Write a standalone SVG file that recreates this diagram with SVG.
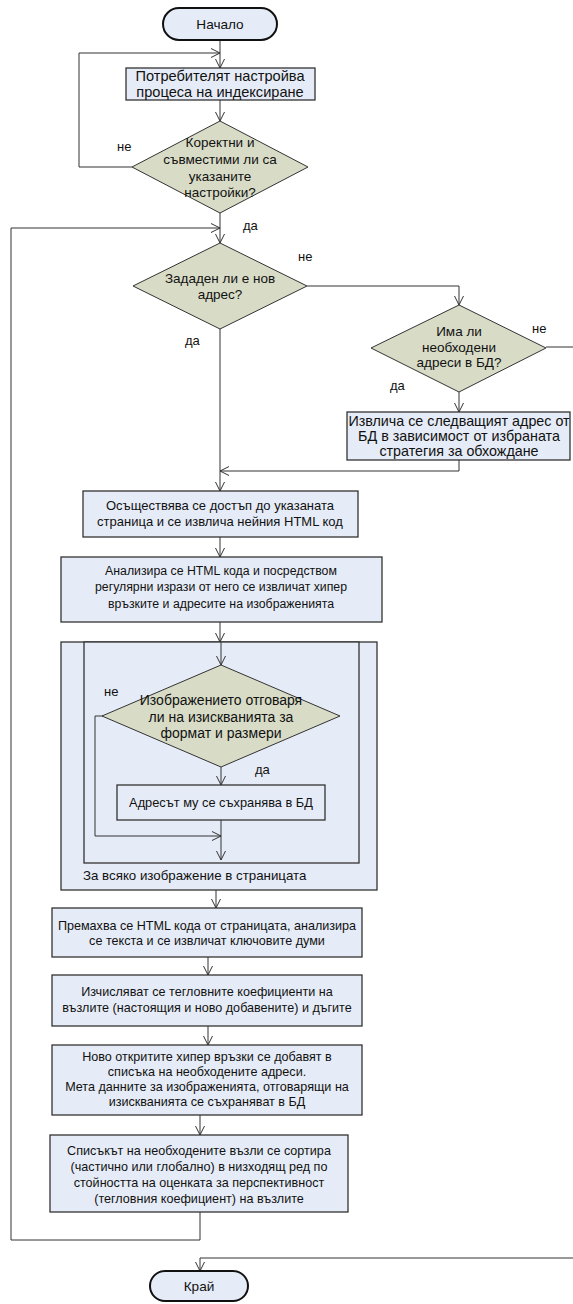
<svg xmlns="http://www.w3.org/2000/svg" width="573" height="1304" viewBox="0 0 573 1304">
<style>
.box{fill:#E6ECF7;stroke:#333;stroke-width:1.3}
.dia{fill:#D8DCC7;stroke:#333;stroke-width:1}
.term{fill:#E6ECF7;stroke:#111;stroke-width:2}
.frame{fill:#E6ECF7;stroke:#333;stroke-width:1.3}
.edge{fill:none;stroke:#333;stroke-width:1}
.arr{marker-end:url(#arr)}
text{font-family:"Liberation Sans",Arial,sans-serif;font-size:13px;fill:#111;text-anchor:middle}
.lbl{text-anchor:start}
.big{font-size:14.3px}
.dt{font-size:13.5px}
.sm{font-size:12.3px}
.lw{font-size:12.6px}
</style>
<defs>
<marker id="arr" markerUnits="userSpaceOnUse" markerWidth="12" markerHeight="12" refX="9" refY="5" orient="auto">
<path d="M0,0.5 L9,5 L0,9.5" fill="none" stroke="#333" stroke-width="1"/>
</marker>
</defs>
<rect width="573" height="1304" fill="#fff"/>

<g id="connectors">
<path class="edge arr" d="M220,40 V68"/>
<path class="edge arr" d="M220,100 V121"/>
<path class="edge arr" d="M132,167 H79 V53 H220"/>
<path class="edge arr" d="M220,213 V243"/>
<path class="edge arr" d="M307,286 H459 V305"/>
<path class="edge arr" d="M220,329 V491"/>
<path class="edge arr" d="M459,392 V412"/>
<path class="edge arr" d="M546,347 H580 V1258 H200 V1271"/>
<path class="edge arr" d="M459,460 V471 H220"/>
<path class="edge arr" d="M220,537 V557"/>
<path class="edge arr" d="M220,622 V642"/>
<path class="edge arr" d="M216,890 V908"/>
<path class="edge arr" d="M208,957 V975"/>
<path class="edge arr" d="M208,1026 V1045"/>
<path class="edge arr" d="M200,1115 V1135"/>
<path class="edge arr" d="M200,1212 V1240 H11 V228 H220"/>
</g>

<g id="loop">
<rect class="frame" x="61" y="642" width="316" height="248"/>
<rect class="frame" x="84" y="642" width="275" height="221"/>
<text class="lbl" x="83" y="880" style="font-size:13.3px">За всяко изображение в страницата</text>
<g id="loop-connectors">
<path class="edge arr" d="M221,642 V665"/>
<path class="edge arr" d="M221,767 V785"/>
<path class="edge arr" d="M103,716 H95 V836 H221"/>
<path class="edge arr" d="M221,820 V860"/>
</g>
<g id="dia3">
<polygon class="dia" points="221,665 340,716 221,767 102,716"/>
<text class="dt" x="221" y="705" style="font-size:14px">Изображението отговаря</text>
<text class="dt" x="221" y="722" style="font-size:14px">ли на изискванията за</text>
<text class="dt" x="221" y="738" style="font-size:14px">формат и размери</text>
</g>
<g id="save">
<rect class="box" x="117" y="785" width="208" height="35"/>
<text x="221" y="807" style="font-size:12.8px">Адресът му се съхранява в БД</text>
</g>
</g>

<g id="start">
<rect class="term" x="163" y="8" width="114" height="32" rx="16"/>
<text x="220" y="29" style="font-size:13.6px">Начало</text>
</g>
<g id="setup">
<rect class="box" x="126" y="68" width="189" height="32"/>
<text class="big" x="220" y="81" style="font-size:14.6px">Потребителят настройва</text>
<text class="big" x="220" y="97" style="font-size:14.6px">процеса на индексиране</text>
</g>
<g id="dia1">
<polygon class="dia" points="220,121 308,167 220,213 132,167"/>
<text class="dt" x="220" y="147">Коректни и</text>
<text class="dt" x="220" y="164">съвместими ли са</text>
<text class="dt" x="220" y="181">указаните</text>
<text class="dt" x="220" y="197">настройки?</text>
</g>
<g id="dia2">
<polygon class="dia" points="220,243 307,286 220,329 133,286"/>
<text class="dt" x="220" y="283">Зададен ли е нов</text>
<text class="dt" x="220" y="299">адрес?</text>
</g>
<g id="dia4">
<polygon class="dia" points="459,305 546,348 459,392 371,348"/>
<text class="dt" x="459" y="336">Има ли</text>
<text class="dt" x="459" y="352">необходени</text>
<text class="dt" x="459" y="367">адреси в БД?</text>
</g>
<g id="fetch">
<rect class="box" x="347" y="412" width="223" height="48"/>
<text class="big" x="459" y="426">Извлича се следващият адрес от</text>
<text class="big" x="459" y="441">БД в зависимост от избраната</text>
<text class="big" x="459" y="456">стратегия за обхождане</text>
</g>
<g id="access">
<rect class="box" x="83" y="491" width="275" height="46"/>
<text x="220" y="510">Осъществява се достъп до указаната</text>
<text x="220" y="526">страница и се извлича нейния HTML код</text>
</g>
<g id="parse">
<rect class="box" x="61" y="557" width="321" height="65"/>
<text class="sm" x="221" y="575">Анализира се HTML кода и посредством</text>
<text class="sm" x="221" y="591">регулярни изрази от него се извличат хипер</text>
<text class="sm" x="221" y="608">връзките и адресите на изображенията</text>
</g>
<g id="strip">
<rect class="box" x="52" y="908" width="310" height="49"/>
<text class="lw" x="207" y="930">Премахва се HTML кода от страницата, анализира</text>
<text class="lw" x="207" y="945">се текста и се извличат ключовите думи</text>
</g>
<g id="weights">
<rect class="box" x="52" y="975" width="310" height="51"/>
<text class="lw" x="207" y="996">Изчисляват се тегловните коефициенти на</text>
<text class="lw" x="207" y="1012">възлите (настоящия и ново добавените) и дъгите</text>
</g>
<g id="add">
<rect class="box" x="52" y="1045" width="310" height="70"/>
<text class="lw" x="207" y="1061">Ново откритите хипер връзки се добавят в</text>
<text class="lw" x="207" y="1076">списъка на необходените адреси.</text>
<text class="lw" x="207" y="1091">Мета данните за изображенията, отговарящи на</text>
<text class="lw" x="207" y="1106">изискванията се съхраняват в БД</text>
</g>
<g id="sort">
<rect class="box" x="50" y="1135" width="298" height="77"/>
<text class="lw" x="199" y="1155">Списъкът на необходените възли се сортира</text>
<text class="lw" x="199" y="1171">(частично или глобално) в низходящ ред по</text>
<text class="lw" x="199" y="1187">стойността на оценката за перспективност</text>
<text class="lw" x="199" y="1203">(тегловния коефициент) на възлите</text>
</g>
<g id="end">
<rect class="term" x="150" y="1271" width="98" height="30" rx="15"/>
<text x="199" y="1291" style="font-size:13.6px">Край</text>
</g>

<g id="labels">
<text class="lbl" x="117" y="151">не</text>
<text class="lbl" x="243" y="230">да</text>
<text class="lbl" x="298" y="261">не</text>
<text class="lbl" x="185" y="345">да</text>
<text class="lbl" x="532" y="333">не</text>
<text class="lbl" x="390" y="390">да</text>
<text class="lbl" x="104" y="696">не</text>
<text class="lbl" x="255" y="774">да</text>
</g>
</svg>
